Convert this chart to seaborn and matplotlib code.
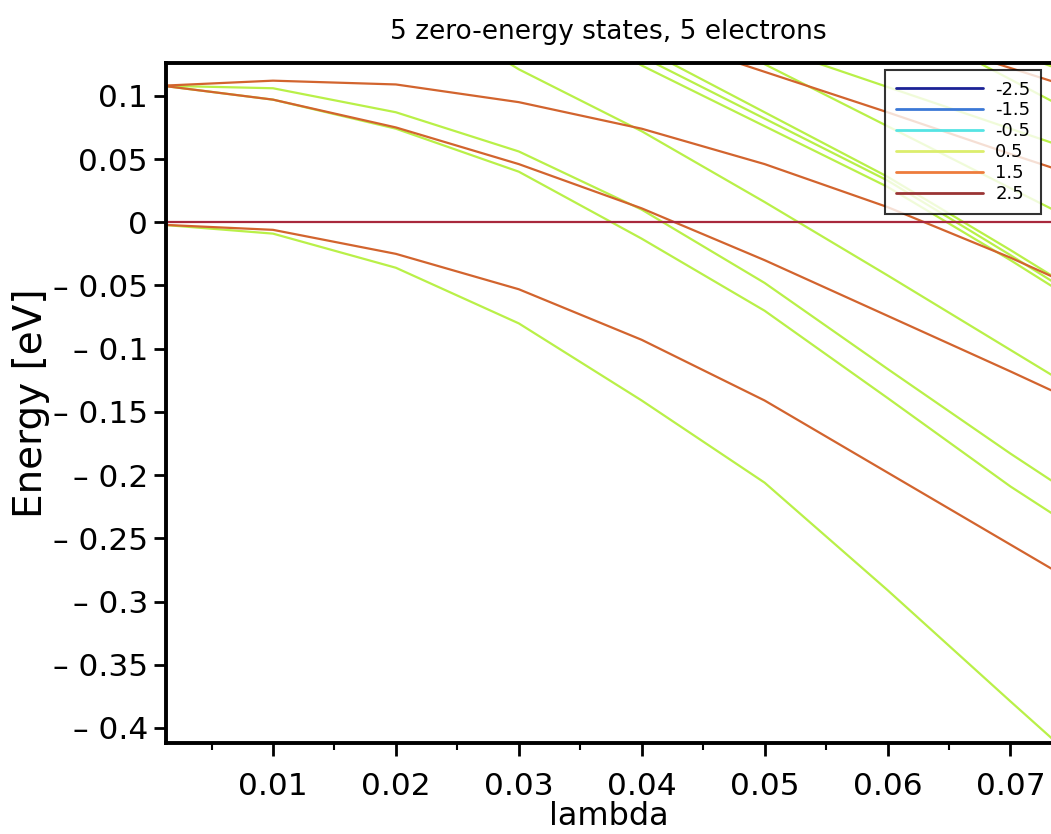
"""
Energy levels vs lambda for 5 zero-energy states, 5 electrons
"""

import pandas as pd
import matplotlib
matplotlib.use('Agg')
import matplotlib.pyplot as plt
import seaborn as sns
from matplotlib.lines import Line2D
from matplotlib.ticker import MultipleLocator, FuncFormatter

# lambda grid of the computed points
lam = [0.001, 0.01, 0.02, 0.03, 0.04, 0.05, 0.06, 0.07, 0.08]

# spin 1.5 levels (orange)
orange_a = [0.108, 0.112, 0.109, 0.095, 0.074, 0.046, 0.012, -0.028, -0.072]
orange_b = [0.108, 0.097, 0.075, 0.046, 0.011, -0.030, -0.074, -0.118, -0.163]
orange_c = [0.240, 0.230, 0.210, 0.182, 0.151, 0.119, 0.087, 0.054, 0.022]
orange_d = [0.300, 0.285, 0.262, 0.237, 0.211, 0.183, 0.153, 0.122, 0.091]
orange_low = [-0.002, -0.006, -0.025, -0.053, -0.093, -0.141, -0.198, -0.255, -0.312]

# spin 0.5 levels (green)
green_a = [0.108, 0.106, 0.087, 0.056, 0.010, -0.048, -0.116, -0.183, -0.247]
green_b = [0.108, 0.097, 0.074, 0.040, -0.013, -0.070, -0.139, -0.209, -0.272]
green_c = [0.270, 0.235, 0.180, 0.121, 0.072, 0.016, -0.042, -0.101, -0.160]
green_d = [0.350, 0.310, 0.260, 0.190, 0.131, 0.082, 0.033, -0.026, -0.087]
green_e = [0.360, 0.320, 0.270, 0.200, 0.138, 0.087, 0.036, -0.022, -0.082]
green_f = [0.340, 0.300, 0.250, 0.180, 0.124, 0.076, 0.028, -0.030, -0.091]
green_g = [0.380, 0.340, 0.290, 0.230, 0.174, 0.125, 0.076, 0.027, -0.022]
green_h = [0.300, 0.280, 0.250, 0.210, 0.173, 0.140, 0.107, 0.074, 0.041]
green_i = [0.420, 0.390, 0.340, 0.280, 0.220, 0.190, 0.164, 0.113, 0.062]
green_j = [0.420, 0.390, 0.340, 0.290, 0.240, 0.205, 0.170, 0.135, 0.100]
green_low = [-0.002, -0.009, -0.036, -0.080, -0.141, -0.206, -0.291, -0.379, -0.466]

# spin 2.5 level (zero line)
zero_line = [0.0, 0.0, 0.0, 0.0, 0.0, 0.0, 0.0, 0.0, 0.0]

legend_labels = ['-2.5', '-1.5', '-0.5', '0.5', '1.5', '2.5']
legend_colors = ['#1c2296', '#3b78d6', '#55e4e4', '#dcee6c', '#ee7c3c', '#9a3434']

curves = {
    'orange_a': (orange_a, 1.5), 'orange_b': (orange_b, 1.5),
    'orange_c': (orange_c, 1.5), 'orange_d': (orange_d, 1.5),
    'orange_low': (orange_low, 1.5),
    'green_a': (green_a, 0.5), 'green_b': (green_b, 0.5),
    'green_c': (green_c, 0.5), 'green_d': (green_d, 0.5),
    'green_e': (green_e, 0.5), 'green_f': (green_f, 0.5),
    'green_g': (green_g, 0.5), 'green_h': (green_h, 0.5),
    'green_i': (green_i, 0.5), 'green_j': (green_j, 0.5),
    'green_low': (green_low, 0.5),
    'zero_line': (zero_line, 2.5),
}

rows = []
for name, (vals, spin) in curves.items():
    for x, y in zip(lam, vals):
        rows.append({'lambda': x, 'energy': y, 'curve': name, 'spin': spin})
df = pd.DataFrame(rows)

sns.set_style("ticks")
plt.rcParams['font.family'] = ['DejaVu Sans']
plt.rcParams['axes.unicode_minus'] = False
plt.rcParams['text.color'] = 'black'
plt.rcParams['axes.labelcolor'] = 'black'
plt.rcParams['xtick.color'] = 'black'
plt.rcParams['ytick.color'] = 'black'

fig = plt.figure(figsize=(10.51, 8.34), dpi=100)
ax = fig.add_axes([0.158, 0.109, 0.842, 0.8155])

palette = {0.5: '#b9f048', 1.5: '#d2642e', 2.5: '#a8283c'}
sns.lineplot(data=df, x='lambda', y='energy', hue='spin', units='curve',
             estimator=None, sort=False, palette=palette, hue_order=[0.5, 1.5, 2.5],
             linewidth=1.6, legend=False, ax=ax)


def ytick_fmt(v, pos):
    if abs(v) < 1e-9:
        return '0'
    if v < 0:
        return '\u2013 ' + f'{abs(v):g}'
    return f'{v:g}'


ax.set_xlim(0.0013, 0.0733)
ax.set_ylim(-0.412, 0.126)

ax.xaxis.set_major_locator(MultipleLocator(0.01))
ax.xaxis.set_minor_locator(MultipleLocator(0.005))
ax.yaxis.set_major_locator(MultipleLocator(0.05))
ax.yaxis.set_major_formatter(FuncFormatter(ytick_fmt))
ax.xaxis.set_major_formatter(FuncFormatter(lambda v, p: f'{v:g}'))

ax.tick_params(axis='both', which='major', direction='out', length=9, width=2,
               labelsize=22.5)
ax.tick_params(axis='x', which='major', pad=12)
ax.tick_params(axis='y', which='major', pad=4)
ax.tick_params(axis='x', which='minor', direction='out', length=5, width=1.5)

for side in ['left', 'bottom', 'top']:
    ax.spines[side].set_linewidth(2.8)
    ax.spines[side].set_color('black')
ax.spines['right'].set_visible(False)

ax.set_xlabel('lambda', fontsize=23, labelpad=0)
ax.set_ylabel('Energy [eV]', fontsize=28, labelpad=2)
ax.set_title('5 zero-energy states, 5 electrons', fontsize=19, pad=17)

handles = [Line2D([0], [0], color=c, linewidth=2) for c in legend_colors]
leg = ax.legend(handles, legend_labels, loc='upper right', bbox_to_anchor=(0.989, 0.99),
                fontsize=13, handlelength=4.8, handletextpad=0.7, labelspacing=0.16,
                frameon=True, fancybox=False, borderpad=0.6, borderaxespad=0.0)
leg.get_frame().set_edgecolor('black')
leg.get_frame().set_linewidth(1.5)

fig.savefig('out.png', dpi=100)
print("Saved out.png")
